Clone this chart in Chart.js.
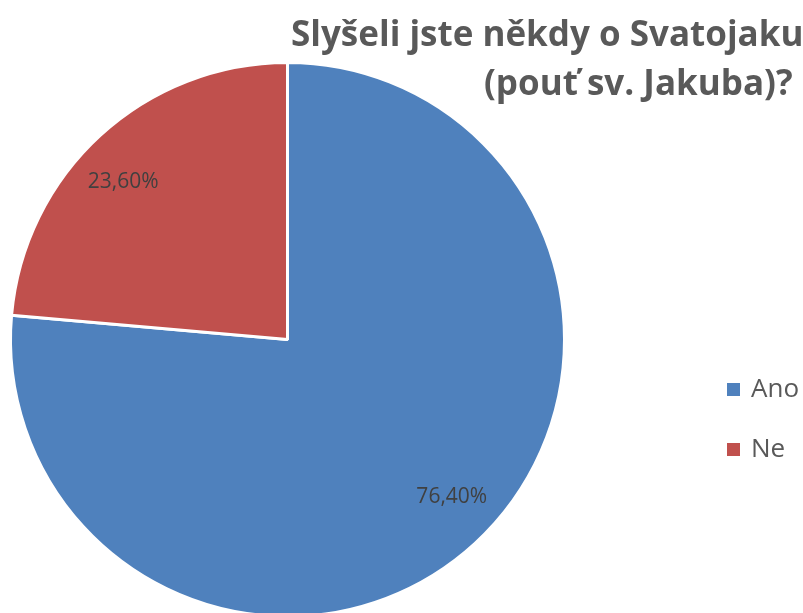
<!DOCTYPE html>
<html>
<head>
<meta charset="utf-8">
<script src="https://cdn.jsdelivr.net/npm/chart.js@4"></script>
<style>
  html, body { margin: 0; padding: 0; background: #fff; overflow: hidden; }
  #wrap { width: 803px; height: 613px; overflow: hidden; }
</style>
</head>
<body>
<div id="wrap"><canvas id="pieChart" width="803" height="700"></canvas></div>
<script>
// data
const labels = ['Ano', 'Ne'];
const values = [76.4, 23.6];
const colors = ['#4F81BD', '#C0504D'];
const titleLines = ['Slyšeli jste někdy o Svatojakubské pouti', '(pouť sv. Jakuba)?'];

const FONT = '"Open Sans", Lato, sans-serif';

// title, legend and value labels drawn after the pie
const extras = {
    id: 'extras',
    afterDraw(chart) {
        const c = chart.ctx;
        c.save();

        // value labels inside slices
        const meta = chart.getDatasetMeta(0);
        c.fillStyle = '#404040';
        c.font = '21px ' + FONT;
        c.textAlign = 'center';
        c.textBaseline = 'middle';
        meta.data.forEach((arc, i) => {
            const mid = (arc.startAngle + arc.endAngle) / 2 - 3.7 * Math.PI / 180;
            const r = arc.outerRadius * 0.822;
            const txt = values[i].toFixed(2).replace('.', ',') + '%';
            c.fillText(txt, arc.x + Math.cos(mid) * r, arc.y + Math.sin(mid) * r);
        });

        // title
        c.fillStyle = '#595959';
        c.font = 'bold 35px ' + FONT;
        c.textAlign = 'left';
        c.textBaseline = 'alphabetic';
        c.fillText(titleLines[0], 291, 46);
        c.fillText(titleLines[1], 484, 95);

        // legend
        c.font = '26px ' + FONT;
        labels.forEach((lab, i) => {
            const y = 389 + i * 60;
            c.fillStyle = colors[i];
            c.fillRect(727, y - 6, 13, 13);
            c.fillStyle = '#595959';
            c.fillText(lab, 751, y + 8);
        });

        c.restore();
    }
};

new Chart(document.getElementById('pieChart'), {
    type: 'pie',
    data: {
        labels: labels,
        datasets: [{
            data: values,
            backgroundColor: colors,
            borderColor: '#ffffff',
            borderWidth: 3
        }]
    },
    options: {
        responsive: false,
        animation: false,
        layout: {
            padding: { left: 9, right: 237, top: 61, bottom: 82 }
        },
        plugins: {
            legend: { display: false },
            title: { display: false },
            tooltip: { enabled: false }
        }
    },
    plugins: [extras]
});
</script>
</body>
</html>
